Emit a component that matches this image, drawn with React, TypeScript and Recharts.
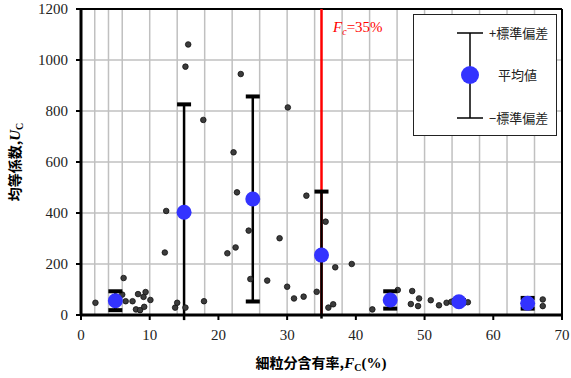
import React from 'react'
import {
    ScatterChart,
    Scatter,
    XAxis,
    YAxis,
    CartesianGrid,
    ReferenceLine,
    ErrorBar,
    Label,
} from 'recharts'

// individual samples: fines content (%) and uniformity coefficient
const sampleFc = [
    2.1, 6.2, 6.0, 6.5, 7.5, 8.3, 9.4, 9.1, 10.1, 8.0, 8.6, 9.2, 12.2, 12.4, 13.7, 14.0, 15.2,
    15.2, 15.6, 17.8, 17.9, 21.3, 22.2, 22.5, 22.7, 23.25, 24.4, 24.65, 27.1, 28.9, 30.1, 30.0,
    31.0, 32.4, 32.8, 34.3, 35.6, 36.0, 36.7, 37.0, 39.4, 42.4, 46.1, 48.2, 49.2, 48.0, 49.05,
    50.9, 52.1, 53.2, 53.9, 54.5, 56.3, 67.2, 67.2,
]
const sampleUc = [
    48, 145, 80, 54, 54, 82, 90, 71, 59, 22, 19, 32, 245, 408, 29, 48, 29,
    974, 1061, 765, 54, 242, 638, 265, 481, 945, 331, 141, 135, 301, 814, 111,
    65, 72, 468, 91, 366, 29, 42, 187, 200, 22, 98, 94, 65, 43, 35,
    58, 38, 48, 52, 58, 50, 61, 35,
]

// group means and standard deviations
const groupFc = [5, 15, 25, 35, 45, 55, 65]
const groupMean = [56, 403, 455, 235, 59, 52, 46]
const groupSd = [37, 423, 402, 249, 34, 7, 21]

const xTicks = [0, 10, 20, 30, 40, 50, 60, 70]
const yTicks = [0, 200, 400, 600, 800, 1000, 1200]
const gridX = [
    0, 2, 4, 6, 8, 10, 12, 14, 16, 18, 20, 22, 24, 26, 28, 30, 32, 34, 36, 38, 40, 42, 44, 46,
    48, 50, 52, 54, 56, 58, 60, 62, 64, 66, 68, 70,
]
const fcLimit = 35

const samples = sampleFc.map((x, i) => ({ x, y: sampleUc[i] }))
const means = groupFc.map((x, i) => ({ x, y: groupMean[i], sd: groupSd[i] }))
const caps = groupFc.flatMap((x, i) => [
    { x, y: groupMean[i] + groupSd[i] },
    { x, y: groupMean[i] - groupSd[i] },
])

const SERIF = '"Liberation Serif", "DejaVu Serif", serif'
const JP = '"Noto Sans CJK JP", sans-serif'

const Dot = (props: any) => (
    <circle cx={props.cx} cy={props.cy} r={2.8} fill='#3c3c3c' stroke='#111' strokeWidth={0.8} />
)
const MeanDot = (props: any) => <circle cx={props.cx} cy={props.cy} r={7.5} fill='#3333ff' />
const Cap = (props: any) => <rect x={props.cx - 7} y={props.cy - 2} width={14} height={4} fill='#000' />

function LegendBox() {
    return (
        <div
            style={{
                position: 'absolute',
                left: 413,
                top: 14,
                width: 142,
                height: 120,
                border: '1.5px solid #222',
                background: '#fff',
            }}
        >
            <svg width={142} height={120}>
                <line x1={56} y1={18} x2={56} y2={103} stroke='#000' strokeWidth={1.5} />
                <line x1={43} y1={18} x2={69} y2={18} stroke='#000' strokeWidth={1.5} />
                <line x1={43} y1={103} x2={69} y2={103} stroke='#000' strokeWidth={1.5} />
                <circle cx={56} cy={60} r={9} fill='#3333ff' />
                <text x={75} y={23} fontFamily={JP} fontSize={13} fill='#222'>
                    +標準偏差
                </text>
                <text x={84} y={65} fontFamily={JP} fontSize={13} fill='#222'>
                    平均値
                </text>
                <text x={75} y={108} fontFamily={JP} fontSize={13} fill='#222'>
                    −標準偏差
                </text>
            </svg>
        </div>
    )
}

export default function App() {
    return (
        <div style={{ position: 'absolute', left: 0, top: 0, width: 571, height: 378 }}>
            <ScatterChart width={571} height={378} margin={{ top: 9, right: 9, bottom: 0, left: 0 }}>
                <CartesianGrid
                    stroke='#c0c0c0'
                    strokeWidth={1.5}
                    verticalValues={gridX}
                    horizontalValues={yTicks}
                />
                <XAxis
                    type='number'
                    dataKey='x'
                    domain={[0, 70]}
                    ticks={xTicks}
                    height={63}
                    tickSize={5}
                    tickMargin={9}
                    axisLine={{ stroke: '#000', strokeWidth: 3 }}
                    tickLine={{ stroke: '#000', strokeWidth: 2 }}
                    tick={{ fill: '#222', fontSize: 15, fontFamily: SERIF }}
                >
                    <Label
                        content={() => (
                            <text x={321} y={368} textAnchor='middle' fontWeight='bold' fontSize={14} fill='#000'>
                                <tspan fontFamily={JP}>細粒分含有率,</tspan>
                                <tspan fontFamily={SERIF} fontStyle='italic' fontSize={15}>F</tspan>
                                <tspan fontFamily={SERIF} fontSize={10} dy={3}>C</tspan>
                                <tspan fontFamily={SERIF} fontSize={15} dy={-3}>(%)</tspan>
                            </text>
                        )}
                    />
                </XAxis>
                <YAxis
                    type='number'
                    dataKey='y'
                    domain={[0, 1200]}
                    ticks={yTicks}
                    width={81}
                    allowDataOverflow
                    tickSize={5}
                    tickMargin={8}
                    axisLine={{ stroke: '#000', strokeWidth: 3 }}
                    tickLine={{ stroke: '#000', strokeWidth: 2 }}
                    tick={{ fill: '#222', fontSize: 15, fontFamily: SERIF }}
                >
                    <Label
                        content={() => (
                            <text
                                transform='translate(20,162) rotate(-90)'
                                textAnchor='middle'
                                fontWeight='bold'
                                fontSize={14}
                                fill='#000'
                            >
                                <tspan fontFamily={JP}>均等係数,</tspan>
                                <tspan fontFamily={SERIF} fontStyle='italic' fontSize={15}>U</tspan>
                                <tspan fontFamily={SERIF} fontSize={10} dy={3}>C</tspan>
                            </text>
                        )}
                    />
                </YAxis>
                <ReferenceLine y={1200} stroke='#000' strokeWidth={2} />
                <ReferenceLine x={70} stroke='#000' strokeWidth={2} />
                <ReferenceLine
                    x={fcLimit}
                    stroke='#ff0000'
                    strokeWidth={2.5}
                    label={{
                        content: () => (
                            <text x={333} y={32} fill='#ff0000' fontFamily={SERIF} fontSize={15}>
                                <tspan fontStyle='italic'>F</tspan>
                                <tspan fontStyle='italic' fontSize={10} dy={3}>c</tspan>
                                <tspan dy={-3}>=35%</tspan>
                            </text>
                        ),
                    }}
                />
                <Scatter data={samples} shape={Dot} isAnimationActive={false} />
                <Scatter data={means} shape={() => <g />} isAnimationActive={false}>
                    <ErrorBar dataKey='sd' direction='y' width={0} stroke='#000' strokeWidth={2.5} />
                </Scatter>
                <Scatter data={caps} shape={Cap} isAnimationActive={false} />
                <Scatter data={means} shape={MeanDot} isAnimationActive={false} />
            </ScatterChart>
            <LegendBox />
        </div>
    )
}
